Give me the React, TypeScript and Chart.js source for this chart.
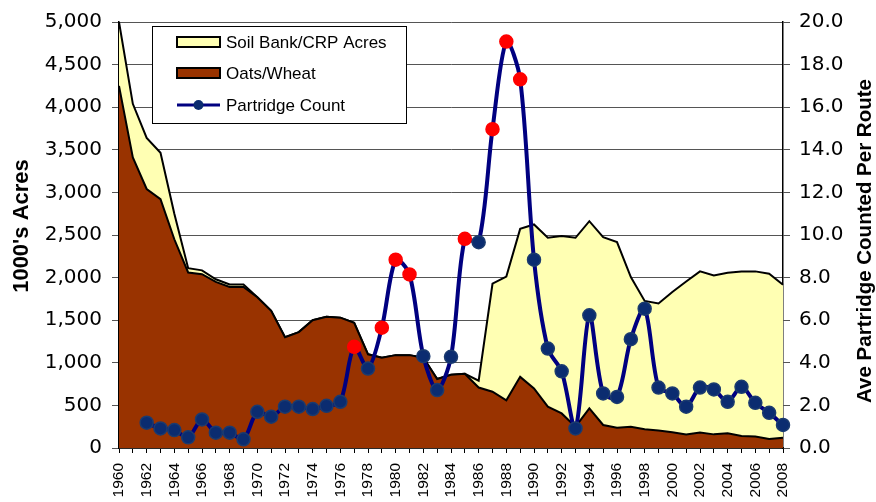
import React, { useEffect, useRef } from "react";
import { Chart, registerables } from "chart.js";

Chart.register(...registerables);

const years: string[] = [
  "1960","1961","1962","1963","1964","1965","1966","1967","1968","1969",
  "1970","1971","1972","1973","1974","1975","1976","1977","1978","1979",
  "1980","1981","1982","1983","1984","1985","1986","1987","1988","1989",
  "1990","1991","1992","1993","1994","1995","1996","1997","1998","1999",
  "2000","2001","2002","2003","2004","2005","2006","2007","2008",
];

// 1000's acres
const oatsWheat: number[] = [
  4250, 3410, 3040, 2920, 2450, 2060, 2040, 1950, 1890, 1890,
  1770, 1610, 1300, 1360, 1500, 1540, 1530, 1470, 1100, 1060,
  1090, 1090, 1060, 810, 860, 870, 710, 660, 560, 835,
  700, 485, 406, 250, 465, 270, 238, 250, 220, 205,
  185, 158, 183, 160, 172, 140, 135, 105, 120,
];

const soilBankCrp: number[] = [
  750, 630, 600, 545, 300, 50, 45, 30, 30, 30,
  0, 0, 0, 0, 0, 0, 0, 0, 0, 0,
  0, 0, 0, 0, 0, 0, 80, 1268, 1452, 1737,
  1924, 1983, 2082, 2217, 2197, 2205, 2178, 1756, 1506, 1491,
  1647, 1797, 1890, 1866, 1885, 1933, 1938, 1940, 1796,
];

// Ave partridge counted per route
const partridge: (number | null)[] = [
  null, null, 1.19, 0.92, 0.84, 0.5, 1.34, 0.72, 0.72, 0.41,
  1.7, 1.47, 1.94, 1.94, 1.83, 1.98, 2.17, 4.75, 3.73, 5.65,
  8.84, 8.15, 4.31, 2.72, 4.28, 9.82, 9.66, 14.97, 19.08, 17.31,
  8.84, 4.67, 3.6, 0.92, 6.23, 2.56, 2.4, 5.11, 6.54, 2.84,
  2.56, 1.94, 2.84, 2.75, 2.17, 2.87, 2.12, 1.65, 1.08,
];

const highlightYears: string[] = ["1977", "1979", "1980", "1981", "1985", "1987", "1988", "1989"];

const legendLabels: string[] = ["Soil Bank/CRP Acres", "Oats/Wheat", "Partridge Count"];
const leftTitle = "1000's Acres";
const rightTitle = "Ave Partridge Counted Per Route";

const YELLOW = "#FFFFB3";
const BROWN = "#993300";
const NAVY = "#000080";
const DOT = "#0B2C70";
const RED = "#FF0000";

const overlayPlugin = {
  id: "overlay",
  afterDraw(chart: any) {
    const ctx = chart.ctx as CanvasRenderingContext2D;
    ctx.save();
    ctx.fillStyle = "#000";
    ctx.textAlign = "center";
    ctx.textBaseline = "middle";
    ctx.font = "bold 22px 'Liberation Sans', Arial, sans-serif";
    ctx.save();
    ctx.translate(22, 226);
    ctx.rotate(-Math.PI / 2);
    ctx.fillText(leftTitle, 0, 0);
    ctx.restore();
    ctx.font = "bold 20.5px 'Liberation Sans', Arial, sans-serif";
    ctx.save();
    ctx.translate(865, 241);
    ctx.rotate(-Math.PI / 2);
    ctx.fillText(rightTitle, 0, 0);
    ctx.restore();

    const bx = 152, by = 26, bw = 254, bh = 97;
    ctx.fillStyle = "#fff";
    ctx.fillRect(bx, by, bw, bh);
    ctx.strokeStyle = "#000";
    ctx.lineWidth = 1;
    ctx.strokeRect(bx + 0.5, by + 0.5, bw, bh);
    const rows = [42, 73, 105];
    const sx = 177, sw = 43;
    ctx.lineWidth = 2;
    ctx.fillStyle = YELLOW;
    ctx.fillRect(sx, rows[0] - 5, sw, 10);
    ctx.strokeRect(sx, rows[0] - 5, sw, 10);
    ctx.fillStyle = BROWN;
    ctx.fillRect(sx, rows[1] - 5, sw, 10);
    ctx.strokeRect(sx, rows[1] - 5, sw, 10);
    ctx.strokeStyle = NAVY;
    ctx.lineWidth = 3;
    ctx.beginPath();
    ctx.moveTo(sx, rows[2]);
    ctx.lineTo(sx + sw, rows[2]);
    ctx.stroke();
    ctx.fillStyle = DOT;
    ctx.beginPath();
    ctx.arc(sx + sw / 2, rows[2], 5, 0, Math.PI * 2);
    ctx.fill();
    ctx.fillStyle = "#000";
    ctx.textAlign = "left";
    ctx.font = "17px 'Liberation Sans', Arial, sans-serif";
    legendLabels.forEach((t, i) => ctx.fillText(t, 226, rows[i] + 1));
    ctx.restore();
  },
};

export default function App() {
  const ref = useRef<HTMLCanvasElement | null>(null);
  useEffect(() => {
    if (!ref.current) return;
    const pointColors = years.map((y) => (highlightYears.includes(y) ? RED : DOT));
    const pointBorders = years.map((y) => (highlightYears.includes(y) ? RED : "#1B3B6F"));
    const chart = new Chart(ref.current, {
      type: "line",
      data: {
        labels: years,
        datasets: [
          {
            label: legendLabels[1],
            data: oatsWheat,
            yAxisID: "y",
            backgroundColor: BROWN,
            borderColor: "#000",
            borderWidth: 2,
            fill: "origin",
            pointRadius: 0,
            tension: 0,
            order: 1,
          },
          {
            label: legendLabels[0],
            data: soilBankCrp,
            yAxisID: "y",
            backgroundColor: YELLOW,
            borderColor: "#000",
            borderWidth: 2,
            fill: "-1",
            pointRadius: 0,
            tension: 0,
            order: 2,
          },
          {
            label: legendLabels[2],
            data: partridge,
            yAxisID: "y1",
            borderColor: NAVY,
            borderWidth: 4,
            fill: false,
            tension: 0.3,
            pointRadius: 6.5,
            pointBackgroundColor: pointColors,
            pointBorderColor: pointBorders,
            pointBorderWidth: 1.5,
            order: 0,
          },
        ],
      },
      options: {
        responsive: false,
        animation: false,
        devicePixelRatio: 1,
        layout: { padding: { top: 21, left: 0, right: 0, bottom: 0 } },
        plugins: { legend: { display: false }, tooltip: { enabled: false } },
        scales: {
          x: {
            type: "category",
            offset: false,
            afterFit: (s: any) => { s.height = 54; },
            grid: { drawOnChartArea: false, drawTicks: true, tickLength: 5, color: "#000" },
            border: { display: true, color: "#000", width: 1.5 },
            ticks: {
              autoSkip: false,
              minRotation: 90,
              maxRotation: 90,
              padding: 10,
              color: "#000",
              font: { family: "'Liberation Sans', Arial, sans-serif", size: 15.5 },
              callback: function (this: any, v: any) {
                const l = this.getLabelForValue(v);
                return Number(l) % 2 === 0 ? l : "";
              },
            },
          },
          y: {
            position: "left",
            stacked: true,
            min: 0,
            max: 5000,
            afterFit: (s: any) => { s.width = 119; },
            grid: { color: "#555", lineWidth: 1, tickLength: 7 },
            border: { display: true, color: "#000", width: 1.5 },
            ticks: {
              stepSize: 500,
              padding: 10,
              color: "#000",
              font: { family: "'DejaVu Sans', sans-serif", size: 20 },
            },
          },
          y1: {
            position: "right",
            min: 0,
            max: 20,
            afterFit: (s: any) => { s.width = 93; },
            grid: { drawOnChartArea: false, color: "#555", tickLength: 7 },
            border: { display: true, color: "#000", width: 1.5 },
            ticks: {
              stepSize: 2,
              padding: 9,
              color: "#000",
              font: { family: "'DejaVu Sans', sans-serif", size: 20 },
              callback: (v: any) => Number(v).toFixed(1),
            },
          },
        },
      },
      plugins: [overlayPlugin],
    });
    return () => chart.destroy();
  }, []);
  return (
    <div style={{ position: "fixed", left: 0, top: 0, width: 876, height: 502, background: "#fff" }}>
      <canvas ref={ref} width={876} height={502} />
    </div>
  );
}
